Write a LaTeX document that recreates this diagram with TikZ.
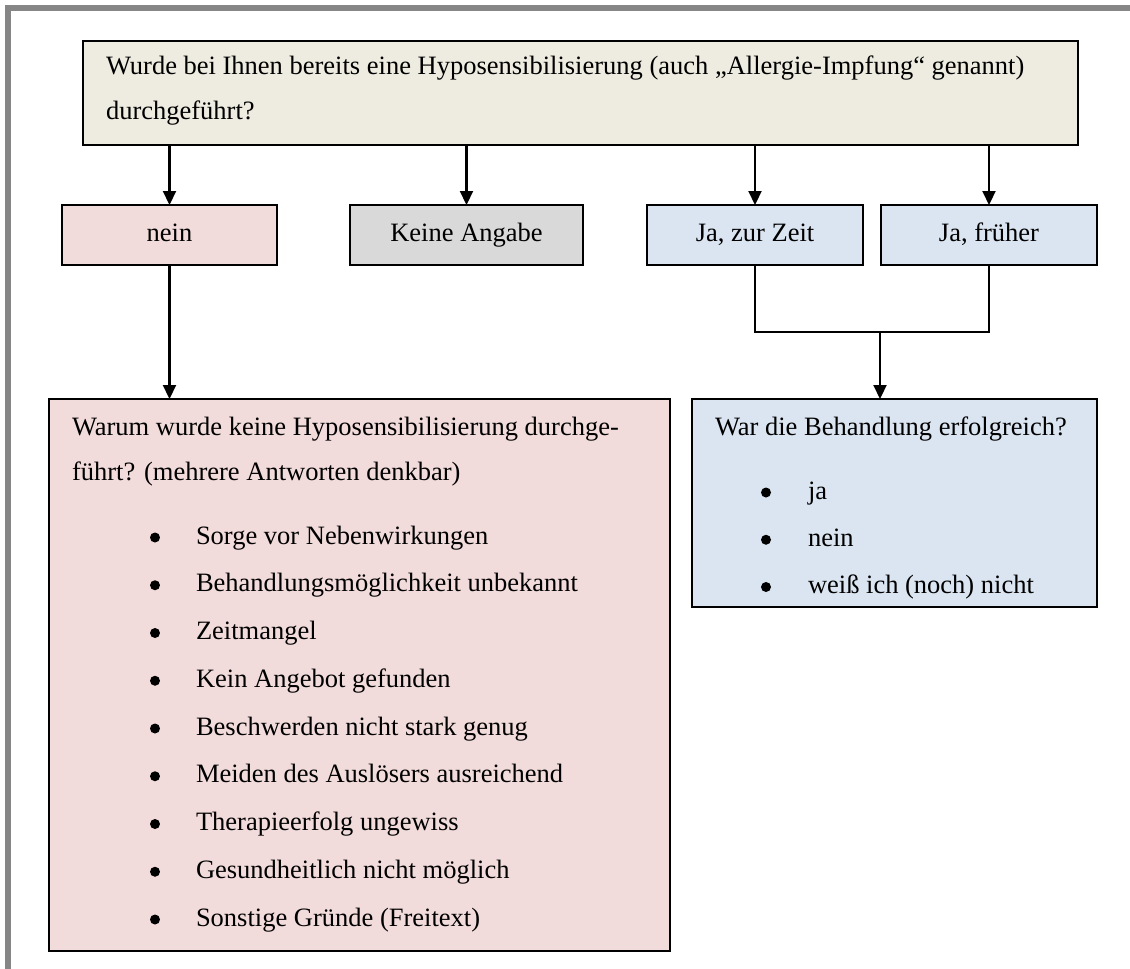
\documentclass[tikz,border=0pt]{standalone}
\usepackage{fontspec}
\setmainfont{Liberation Serif}
\usetikzlibrary{arrows.meta}
\definecolor{framegray}{HTML}{868686}
\definecolor{tanbg}{HTML}{EEECE1}
\definecolor{redbg}{HTML}{F2DCDB}
\definecolor{graybg}{HTML}{D9D9D9}
\definecolor{bluebg}{HTML}{DBE5F1}
\begin{document}
\begin{tikzpicture}[x=1pt,y=-1pt,
  box/.style={draw=black,line width=2.2pt,inner sep=0pt,outer sep=0pt,rectangle},
  txt/.style={anchor=base west,inner sep=0pt,outer sep=0pt,font=\fontsize{26.5}{31}\selectfont},
  ctxt/.style={anchor=base,inner sep=0pt,outer sep=0pt,font=\fontsize{26.5}{31}\selectfont},
  arr/.style={line width=2.2pt,-{Triangle[length=14pt,width=13pt]}},
  con/.style={line width=2.2pt},
  bullet/.style={fill=black}]
\useasboundingbox (0,0) rectangle (1130,969);
\draw[framegray,line width=6pt] (1130,8) -- (8,8) -- (8,969);

% boxes
\node[box,fill=tanbg,minimum width=995pt,minimum height=104pt] (top) at (580.5,93) {};
\node[box,fill=redbg,minimum width=215pt,minimum height=60pt] (nein) at (169.5,235) {};
\node[box,fill=graybg,minimum width=233pt,minimum height=60pt] (keine) at (466.5,235) {};
\node[box,fill=bluebg,minimum width=216pt,minimum height=60pt] (jz) at (755,235) {};
\node[box,fill=bluebg,minimum width=216pt,minimum height=60pt] (jf) at (989,235) {};
\node[box,fill=redbg,minimum width=621pt,minimum height=552pt] (left) at (359.5,675) {};
\node[box,fill=bluebg,minimum width=405pt,minimum height=208pt] (right) at (894.5,503) {};

% connectors
\draw[arr] (top.south -| nein.north) -- (nein.north);
\draw[arr] (top.south -| keine.north) -- (keine.north);
\draw[arr] (top.south -| jz.north) -- (jz.north);
\draw[arr] (top.south -| jf.north) -- (jf.north);
\draw[arr] (nein.south) -- (nein.south |- left.north);
\coordinate (m) at (880,332);
\draw[con] (jz.south) |- (m) -| (jf.south);
\draw[arr] (m) -- (m |- right.north);

% texts
\node[txt] (t1) at (106,74) {Wurde bei Ihnen bereits eine Hyposensibilisierung (auch „Allergie-Impfung“ genannt)};
\node[txt] (t2) at (106,119) {durchgeführt?};
\node[ctxt] (tn) at (169.5,241) {nein};
\node[ctxt] (tk) at (466.5,241) {Keine Angabe};
\node[ctxt] (tz) at (755,241) {Ja, zur Zeit};
\node[ctxt] (tf) at (989,241) {Ja, früher};

\node[txt] (l1) at (72,435) {Warum wurde keine Hyposensibilisierung durchge-};
\node[txt] (l2) at (72,480) {führt? (mehrere Antworten denkbar)};
\foreach \s [count=\i] in {Sorge vor Nebenwirkungen,Behandlungsmöglichkeit unbekannt,Zeitmangel,Kein Angebot gefunden,Beschwerden nicht stark genug,Meiden des Auslösers ausreichend,Therapieerfolg ungewiss,Gesundheitlich nicht möglich,Sonstige Gründe (Freitext)}{
  \fill[bullet] (155,{544+47.75*(\i-1)-6.5}) circle (5pt);
  \node[txt] (li\i) at (196,{544+47.75*(\i-1)}) {\s};
}

\node[txt] (r1) at (715,435) {War die Behandlung erfolgreich?};
\foreach \s [count=\i] in {ja,nein,weiß ich (noch) nicht}{
  \fill[bullet] (766,{499+47.25*(\i-1)-6.5}) circle (5pt);
  \node[txt] (ri\i) at (808,{499+47.25*(\i-1)}) {\s};
}
\end{tikzpicture}
\end{document}
